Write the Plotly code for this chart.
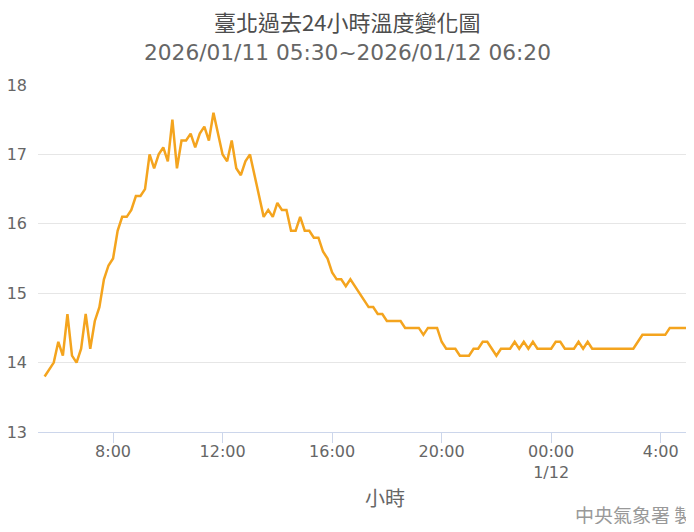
import pandas as pd
import plotly.graph_objects as go

# 10-minute observations, Taipei, 2026/01/11 05:30 -> 2026/01/12 06:20
temps = [
    13.8, 13.9, 14.0, 14.3, 14.1, 14.7, 14.1, 14.0, 14.2, 14.7,
    14.2, 14.6, 14.8, 15.2, 15.4, 15.5, 15.9, 16.1, 16.1, 16.2,
    16.4, 16.4, 16.5, 17.0, 16.8, 17.0, 17.1, 16.9, 17.5, 16.8,
    17.2, 17.2, 17.3, 17.1, 17.3, 17.4, 17.2, 17.6, 17.3, 17.0,
    16.9, 17.2, 16.8, 16.7, 16.9, 17.0, 16.7, 16.4, 16.1, 16.2,
    16.1, 16.3, 16.2, 16.2, 15.9, 15.9, 16.1, 15.9, 15.9, 15.8,
    15.8, 15.6, 15.5, 15.3, 15.2, 15.2, 15.1, 15.2, 15.1, 15.0,
    14.9, 14.8, 14.8, 14.7, 14.7, 14.6, 14.6, 14.6, 14.6, 14.5,
    14.5, 14.5, 14.5, 14.4, 14.5, 14.5, 14.5, 14.3, 14.2, 14.2,
    14.2, 14.1, 14.1, 14.1, 14.2, 14.2, 14.3, 14.3, 14.2, 14.1,
    14.2, 14.2, 14.2, 14.3, 14.2, 14.3, 14.2, 14.3, 14.2, 14.2,
    14.2, 14.2, 14.3, 14.3, 14.2, 14.2, 14.2, 14.3, 14.2, 14.3,
    14.2, 14.2, 14.2, 14.2, 14.2, 14.2, 14.2, 14.2, 14.2, 14.2,
    14.3, 14.4, 14.4, 14.4, 14.4, 14.4, 14.4, 14.5, 14.5, 14.5,
    14.5, 14.5, 14.6, 14.6, 14.6, 14.6, 14.6, 14.6, 14.6, 14.6,
]
start_time = "2026-01-11 05:30"
times = pd.date_range(start_time, periods=len(temps), freq="10min")

tick_vals = ["2026-01-11 08:00", "2026-01-11 12:00", "2026-01-11 16:00",
             "2026-01-11 20:00", "2026-01-12 00:00", "2026-01-12 04:00"]
tick_text = ["8:00", "12:00", "16:00", "20:00", "00:00<br>1/12", "4:00"]
y_ticks = [13, 14, 15, 16, 17, 18]

title_text = "臺北過去24小時溫度變化圖"
subtitle_text = "2026/01/11 05:30~2026/01/12 06:20"
x_title = "小時"
credit_text = "中央氣象署 製"

OFF = 8  # page body margin
W, H = 694 - OFF, 532 - 2 * OFF
# plot area in page pixels: left 38, right 694, top 85, bottom 432
L, R, T, B = 38 - OFF, 0, 85 - OFF, (H + OFF) - 432
pw, ph = W - L - R, H - T - B

def px(x):
    return (x - OFF - L) / pw

def py(y):
    return (432 - y) / ph

latin = "DejaVu Sans, Noto Sans CJK TC, sans-serif"
cjk = "Noto Sans CJK TC, DejaVu Sans, sans-serif"

fig = go.Figure()
fig.add_trace(go.Scatter(
    x=times, y=temps, mode="lines",
    line=dict(color="#F4A41E", width=2.5),
    hoverinfo="x+y", showlegend=False,
))

fig.update_layout(
    width=W, height=H,
    margin=dict(l=L, r=R, t=T, b=B),
    paper_bgcolor="white", plot_bgcolor="white",
    xaxis=dict(
        type="date",
        range=["2026-01-11 05:15:30", "2026-01-12 05:13:00"],
        tickvals=tick_vals, ticktext=tick_text,
        ticks="outside", ticklen=10, tickcolor="#ccd6eb", tickwidth=1,
        showline=True, linecolor="#ccd6eb", linewidth=1,
        showgrid=False, zeroline=False,
        ticklabelstandoff=-5,
        tickfont=dict(family=latin, size=16, color="#666666"),
    ),
    yaxis=dict(
        range=[13, 18], tickvals=y_ticks,
        showgrid=True, gridcolor="#e6e6e6", gridwidth=1,
        zeroline=False, showline=False, ticks="",
        ticklabelstandoff=10,
        tickfont=dict(family=latin, size=16, color="#666666"),
    ),
    annotations=[
        dict(text=title_text, x=px(347), y=py(21), xref="paper", yref="paper",
             showarrow=False, xanchor="center", yanchor="middle",
             font=dict(family=cjk, size=22, color="#4d4d4d")),
        dict(text=subtitle_text, x=px(347), y=py(52), xref="paper", yref="paper",
             showarrow=False, xanchor="center", yanchor="middle",
             font=dict(family=latin, size=21.7, color="#666666")),
        dict(text=x_title, x=px(385), y=py(497), xref="paper", yref="paper",
             showarrow=False, xanchor="center", yanchor="middle",
             font=dict(family=cjk, size=20, color="#666666")),
        dict(text=credit_text, x=px(573), y=py(514), xref="paper", yref="paper",
             showarrow=False, xanchor="left", yanchor="middle",
             font=dict(family=cjk, size=19, color="#999999")),
    ],
)

fig.write_html("out.html")
